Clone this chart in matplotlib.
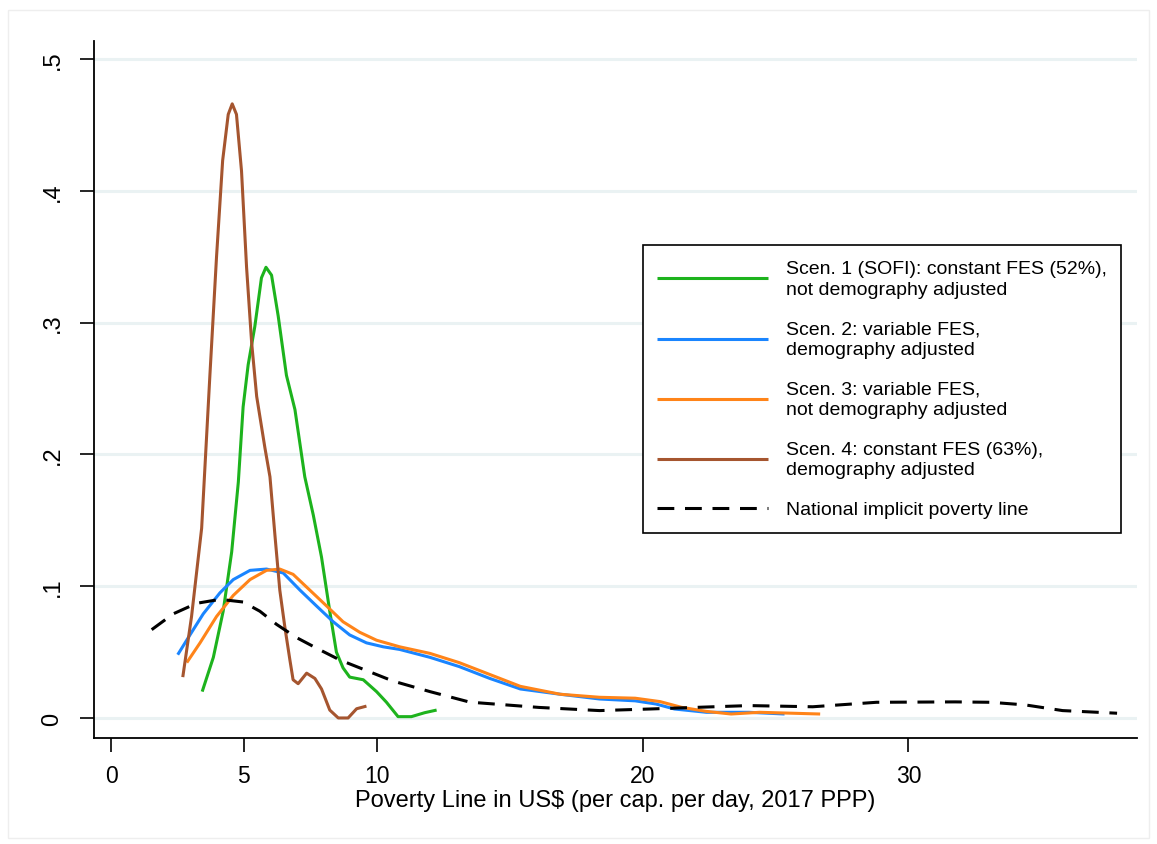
import matplotlib
matplotlib.use("Agg")
import matplotlib.pyplot as plt
from matplotlib.patches import Rectangle

# ---- data ----
scen1_x = [3.43, 3.85, 4.22, 4.54, 4.79, 4.97, 5.16, 5.41, 5.66, 5.83, 6.04, 6.29, 6.60, 6.92,
           7.29, 7.61, 7.92, 8.23, 8.48, 8.73, 8.98, 9.49, 9.99, 10.36, 10.8, 11.3, 11.8, 12.25]
scen1_y = [0.020, 0.046, 0.081, 0.126, 0.179, 0.236, 0.268, 0.297, 0.334, 0.342, 0.336, 0.305, 0.260, 0.234,
           0.183, 0.154, 0.122, 0.081, 0.050, 0.038, 0.031, 0.029, 0.020, 0.012, 0.001, 0.001, 0.004, 0.006]

scen2_x = [2.51, 2.97, 3.47, 4.10, 4.60, 5.23, 5.85, 6.48, 7.11, 7.73, 8.36, 8.98, 9.61, 10.24,
           10.86, 12.0, 13.1, 14.25, 15.4, 16.9, 18.38, 19.72, 20.5, 21.2, 22.4, 24.0, 25.34]
scen2_y = [0.048, 0.063, 0.079, 0.095, 0.105, 0.112, 0.113, 0.110, 0.097, 0.085, 0.073, 0.063, 0.057, 0.054,
           0.052, 0.046, 0.039, 0.030, 0.022, 0.018, 0.0144, 0.013, 0.0106, 0.0068, 0.0043, 0.0043, 0.003]

scen3_x = [2.85, 3.35, 3.97, 4.60, 5.23, 5.85, 6.35, 6.85, 7.48, 8.11, 8.73, 9.36, 9.99, 10.86,
           12.0, 13.1, 14.25, 15.4, 16.9, 18.38, 19.72, 20.66, 21.46, 22.4, 23.33, 24.4, 26.68]
scen3_y = [0.042, 0.057, 0.077, 0.093, 0.105, 0.112, 0.113, 0.109, 0.097, 0.085, 0.073, 0.065, 0.059, 0.054,
           0.049, 0.042, 0.033, 0.024, 0.018, 0.0157, 0.015, 0.0124, 0.0081, 0.005, 0.003, 0.0043, 0.003]

scen4_x = [2.70, 3.03, 3.41, 3.72, 3.97, 4.20, 4.41, 4.56, 4.72, 4.91, 5.10, 5.29, 5.48, 5.79,
           5.98, 6.17, 6.35, 6.54, 6.73, 6.85, 7.04, 7.36, 7.67, 7.92, 8.23, 8.55, 8.92, 9.24, 9.61]
scen4_y = [0.031, 0.077, 0.144, 0.260, 0.350, 0.423, 0.458, 0.466, 0.458, 0.415, 0.342, 0.285, 0.244, 0.205,
           0.183, 0.138, 0.097, 0.069, 0.044, 0.029, 0.026, 0.034, 0.030, 0.022, 0.006, 0.0, 0.0, 0.007, 0.009]

nat_x = [1.53, 2.34, 3.22, 4.10, 4.97, 5.60, 6.23, 6.98, 7.73, 8.61, 9.36, 10.61, 12.0, 13.5,
         16.1, 18.38, 20.26, 22.1, 24.0, 26.4, 28.8, 31.76, 33.1, 34.4, 35.8, 37.85]
nat_y = [0.067, 0.079, 0.087, 0.090, 0.088, 0.081, 0.071, 0.061, 0.053, 0.044, 0.038, 0.028, 0.020, 0.012,
         0.008, 0.0056, 0.0068, 0.0081, 0.0094, 0.0085, 0.0119, 0.0122, 0.0119, 0.0099, 0.0056, 0.0036]

labels = ["Scen. 1 (SOFI): constant FES (52%),\nnot demography adjusted",
          "Scen. 2: variable FES,\ndemography adjusted",
          "Scen. 3: variable FES,\nnot demography adjusted",
          "Scen. 4: constant FES (63%),\ndemography adjusted",
          "National implicit poverty line"]
colors = ["#1db31d", "#1a85ff", "#ff8419", "#a5552f", "black"]

x_ticks = [0, 5, 10, 20, 30]
y_ticks = [0, 0.1, 0.2, 0.3, 0.4, 0.5]
y_ticklabels = ["0", ".1", ".2", ".3", ".4", ".5"]
x_label = "Poverty Line in US$ (per cap. per day, 2017 PPP)"

# ---- figure ----
fig = plt.figure(figsize=(11.57, 8.45), dpi=100)
ax = fig.add_axes([94 / 1157, 1 - 739 / 845, (1137 - 94) / 1157, (739 - 42) / 845])

font = "Liberation Sans"
lw = 2.2
series = [(scen1_x, scen1_y), (scen2_x, scen2_y), (scen3_x, scen3_y), (scen4_x, scen4_y)]
handles = []
for (xs, ys), c, lab in zip(series, colors[:4], labels[:4]):
    h, = ax.plot(xs, ys, color=c, lw=lw, label=lab, solid_capstyle="butt", solid_joinstyle="round")
    handles.append(h)
h, = ax.plot(nat_x, nat_y, color="black", lw=lw, ls=(0, (5.5, 3.5)), label=labels[4])
handles.append(h)

ax.set_xlim(-0.64, 38.6)
ax.set_ylim(-0.0152, 0.5137)
ax.set_xticks(x_ticks)
ax.set_xticklabels([str(t) for t in x_ticks], fontfamily=font, fontsize=16.5)
ax.set_yticks(y_ticks)
ax.set_yticklabels(y_ticklabels, rotation=90, va="center", fontfamily=font, fontsize=17)
ax.tick_params(axis="x", length=10, width=1.2, pad=9)
ax.tick_params(axis="y", length=10, width=1.2, pad=12)
ax.set_xlabel(x_label, fontfamily=font, fontsize=17, labelpad=1)

for y in y_ticks:
    ax.axhline(y, color="#eaf2f3", lw=2.2, zorder=0)

for s in ["top", "right"]:
    ax.spines[s].set_visible(False)
for s in ["left", "bottom"]:
    ax.spines[s].set_linewidth(1.3)

leg = ax.legend(handles=handles, loc="upper left", bbox_to_anchor=(0.526, 0.707),
                frameon=True, fancybox=False, edgecolor="black", framealpha=1,
                prop={"family": font, "size": 14}, handlelength=5.7, handletextpad=0.9,
                labelspacing=1.15, borderpad=0.75, borderaxespad=0)
for t in leg.get_texts():
    t.set_linespacing(1.3)
leg.get_frame().set_linewidth(1.2)

fig.patches.append(Rectangle((8 / 1157, 6 / 845), 1 - 16 / 1157, 1 - 17 / 845,
                             transform=fig.transFigure, fill=False, edgecolor="#eeeeee", lw=1))

fig.savefig("out.png", dpi=100)
